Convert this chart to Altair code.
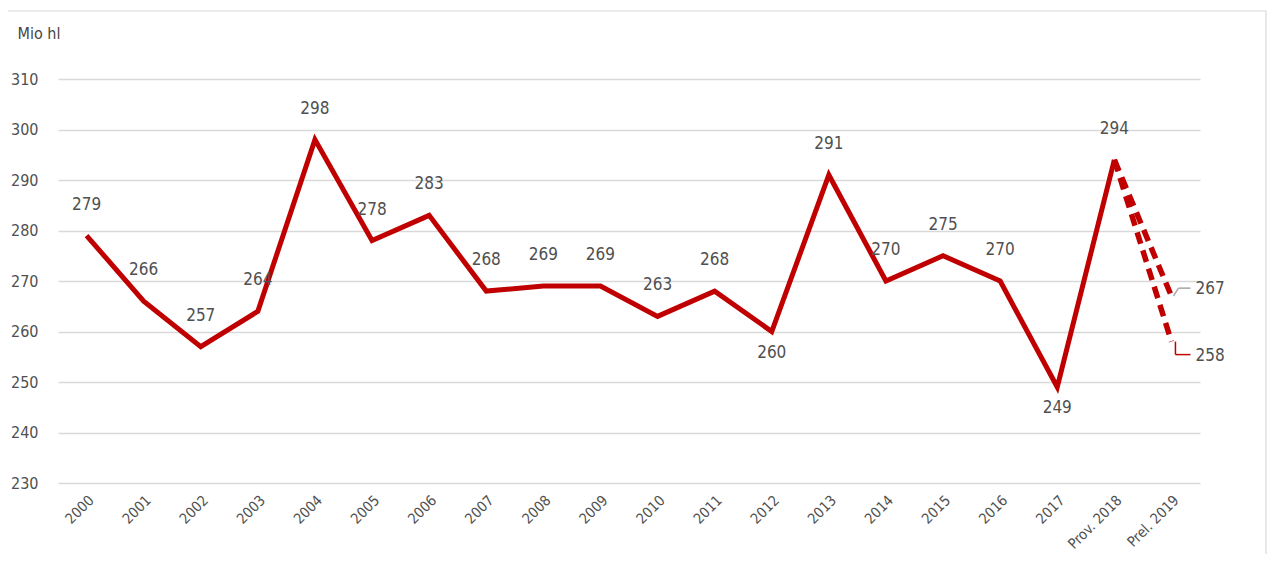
import altair as alt
import pandas as pd

FONT = "DejaVu Sans Condensed, Roboto, sans-serif"
RED = "#c00000"
TXT = "#505050"

categories = ["2000", "2001", "2002", "2003", "2004", "2005", "2006", "2007", "2008",
              "2009", "2010", "2011", "2012", "2013", "2014", "2015", "2016", "2017",
              "Prov. 2018", "Prel. 2019"]
values = [279, 266, 257, 264, 298, 278, 283, 268, 269, 269, 263, 268, 260, 291,
          270, 275, 270, 249, 294]
label_side = ["above", "above", "above", "above", "above", "above", "above", "above",
              "above", "above", "above", "above", "below", "above", "above", "above",
              "above", "below", "above"]
forecast_high = 267
forecast_low = 258
y_ticks = [230, 240, 250, 260, 270, 280, 290, 300, 310]

df_main = pd.DataFrame({"cat": categories[:-1], "value": values, "side": label_side})
df_dash = pd.DataFrame({
    "cat": [categories[-2], categories[-1], categories[-2], categories[-1]],
    "value": [values[-1], forecast_high, values[-1], forecast_low],
    "series": ["high", "high", "low", "low"],
})
df_hi = pd.DataFrame({"cat": [categories[-1]], "value": [forecast_high]})
df_lo = pd.DataFrame({"cat": [categories[-1]], "value": [forecast_low]})

W, H = 1142, 404

x = alt.X("cat:N", sort=categories,
          scale=alt.Scale(type="point", domain=categories, padding=0.5),
          axis=alt.Axis(title=None, labelAngle=-45, labelPadding=10, ticks=False,
                        domain=False, grid=False, labelFontSize=14.5))
y = alt.Y("value:Q",
          scale=alt.Scale(domain=[230, 310], nice=False, zero=False),
          axis=alt.Axis(values=y_ticks, title="Mio hl", titleAngle=0, titleAlign="left",
                        titleBaseline="alphabetic", titleX=-41, titleY=-41,
                        titleFontSize=16, titleFontWeight="normal", titleColor="#444444",
                        ticks=False, domain=False, labelPadding=20, grid=True,
                        gridColor="#d9d9d9", gridWidth=1.5, labelFontSize=16))

frame = alt.Chart(pd.DataFrame({"k": [0]})).mark_rect(
    fill=None, stroke="#d9d9d9", strokeWidth=1.2
).encode(x=alt.value(-53), x2=alt.value(W + 66), y=alt.value(-68), y2=alt.value(H + 80))

main_line = alt.Chart(df_main).mark_line(color=RED, strokeWidth=5, strokeJoin="miter").encode(x=x, y=y)

dash_lines = alt.Chart(df_dash).mark_line(
    color=RED, strokeWidth=5.5, strokeDash=[12, 7]
).encode(x=alt.X("cat:N", sort=categories), y="value:Q", detail="series:N")

lab_above = alt.Chart(df_main).transform_filter("datum.side == 'above'").mark_text(
    dy=-31, fontSize=17, color=TXT, font=FONT
).encode(x=alt.X("cat:N", sort=categories), y="value:Q", text="value:Q")

lab_below = alt.Chart(df_main).transform_filter("datum.side == 'below'").mark_text(
    dy=21, fontSize=17, color=TXT, font=FONT
).encode(x=alt.X("cat:N", sort=categories), y="value:Q", text="value:Q")

# leader lines and end labels
hi_diag = alt.Chart(df_hi).mark_rule(color="#a6a6a6", strokeWidth=1.5, xOffset=2, x2Offset=7, y2Offset=-8).encode(
    x=alt.X("cat:N", sort=categories), x2="cat", y="value:Q", y2="value")
hi_h = alt.Chart(df_hi).mark_rule(color="#a6a6a6", strokeWidth=1.5, xOffset=7, x2Offset=19, yOffset=-8, y2Offset=-8).encode(
    x=alt.X("cat:N", sort=categories), x2="cat", y="value:Q", y2="value")
hi_lab = alt.Chart(df_hi).mark_text(align="left", dx=24, dy=-7, fontSize=17, color=TXT, font=FONT).encode(
    x=alt.X("cat:N", sort=categories), y="value:Q", text="value:Q")

lo_v = alt.Chart(df_lo).mark_rule(color=RED, strokeWidth=1.5, xOffset=4, x2Offset=4, y2Offset=13).encode(
    x=alt.X("cat:N", sort=categories), x2="cat", y="value:Q", y2="value")
lo_h = alt.Chart(df_lo).mark_rule(color=RED, strokeWidth=1.5, xOffset=4, x2Offset=19, yOffset=13, y2Offset=13).encode(
    x=alt.X("cat:N", sort=categories), x2="cat", y="value:Q", y2="value")
lo_lab = alt.Chart(df_lo).mark_text(align="left", dx=24, dy=14, fontSize=17, color=TXT, font=FONT).encode(
    x=alt.X("cat:N", sort=categories), y="value:Q", text="value:Q")

chart = alt.layer(
    frame, main_line, dash_lines, lab_above, lab_below,
    hi_diag, hi_h, hi_lab, lo_v, lo_h, lo_lab
).properties(
    width=W, height=H,
    autosize=alt.AutoSizeParams(type="none"),
    padding={"left": 50, "top": 71, "right": 67, "bottom": 71},
).configure_view(stroke=None).configure_axis(
    labelFont=FONT, titleFont=FONT, labelColor=TXT
)

chart.save("out.html", embed_options={"renderer": "svg", "actions": False})
